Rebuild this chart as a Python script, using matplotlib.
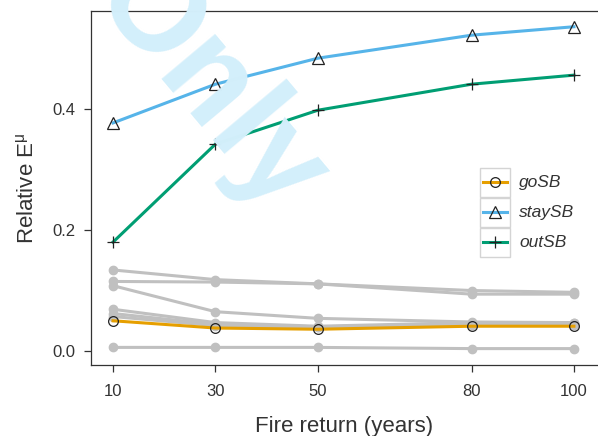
import matplotlib.pyplot as plt
from matplotlib.patches import Rectangle
from matplotlib.lines import Line2D

plt.rcParams["font.family"] = ["Liberation Sans", "DejaVu Sans"]

fire_return = [10, 30, 50, 80, 100]

go_sb = [0.050, 0.038, 0.036, 0.041, 0.041]
stay_sb = [0.377, 0.441, 0.484, 0.522, 0.536]
out_sb = [0.180, 0.342, 0.398, 0.441, 0.456]

# other strategies, drawn in grey
others = [
    [0.134, 0.118, 0.111, 0.100, 0.097],
    [0.115, 0.114, 0.111, 0.094, 0.094],
    [0.108, 0.065, 0.054, 0.048, 0.047],
    [0.069, 0.047, 0.041, 0.047, 0.046],
    [0.062, 0.044, 0.040, 0.045, 0.044],
    [0.057, 0.042, 0.039, 0.043, 0.043],
    [0.006, 0.006, 0.006, 0.004, 0.004],
]

series = [
    ("goSB", go_sb, "#E69F00", "o"),
    ("staySB", stay_sb, "#56B4E9", "^"),
    ("outSB", out_sb, "#009E73", "+"),
]

W, H = 598, 436
fig = plt.figure(figsize=(W / 100, H / 100), dpi=100)
ax = fig.add_axes([91 / W, 1 - 365 / H, (W - 91) / W, (365 - 11) / H])

# watermark
fig.text(208 / W, 1 - 88 / H, "Only", fontsize=94, fontweight="bold",
         color="#d3effb", rotation=-50, ha="center", va="center", zorder=0)
ax.patch.set_alpha(0)

for vals in others:
    ax.plot(fire_return, vals, color="#c0c0c0", lw=2.2, marker="o", ms=6,
            mec="#c0c0c0", mfc="#c0c0c0", zorder=2)

for name, vals, col, mk in series:
    ax.plot(fire_return, vals, color=col, lw=2.2, zorder=3)
    ax.plot(fire_return, vals, ls="none", marker=mk, ms=8 if mk != "o" else 7,
            mfc="none", mec="#222222", mew=0.9, zorder=4)

ax.set_xlim(5.7, 104.7)
ax.set_ylim(-0.0231, 0.562)
ax.set_xticks(fire_return)
ax.set_yticks([0.0, 0.2, 0.4])
ax.set_yticklabels(["0.0", "0.2", "0.4"])
ax.tick_params(labelsize=12, length=5, width=0.9, color="#333333",
               labelcolor="#333333")
ax.tick_params(axis="x", pad=9)
ax.tick_params(axis="y", pad=6)
ax.spines["right"].set_visible(False)
for s in ["left", "top", "bottom"]:
    ax.spines[s].set_color("#333333")
    ax.spines[s].set_linewidth(0.9)

ax.set_xlabel("Fire return (years)", fontsize=16, color="#333333", labelpad=12)
ax.set_ylabel(r"Relative E$^{\mathregular{μ}}$", fontsize=16, color="#333333",
              labelpad=10)

# legend with boxed keys
tr = fig.transFigure
for i, (name, vals, col, mk) in enumerate(series):
    top = 168 + 30 * i
    fig.patches.append(Rectangle((480 / W, 1 - (top + 29) / H), 30 / W, 29 / H,
                                 transform=tr, fc="white", ec="#d4d4d4",
                                 lw=1, zorder=5))
    yc = 1 - (top + 14.5) / H
    fig.lines.append(Line2D([483 / W, 507 / W], [yc, yc], transform=tr,
                            color=col, lw=2.2, zorder=6))
    fig.lines.append(Line2D([495 / W], [yc], transform=tr, ls="none",
                            marker=mk, ms=8 if mk != "o" else 7, mfc="none",
                            mec="#222222", mew=0.9, zorder=7))
    fig.text(519 / W, yc, name, fontsize=12.5, style="italic",
             color="#333333", va="center", ha="left", zorder=7)

fig.savefig("out.png", dpi=100)
